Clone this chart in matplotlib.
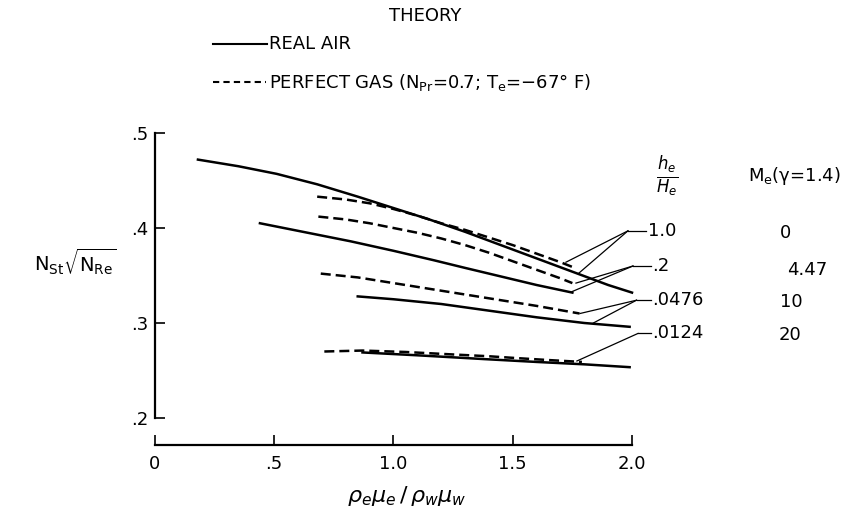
import matplotlib.pyplot as plt
from matplotlib.lines import Line2D

plt.rcParams['font.family'] = ['DejaVu Sans']
plt.rcParams['mathtext.fontset'] = 'dejavusans'

# x = rho_e mu_e / rho_w mu_w , y = N_St sqrt(N_Re)
real_10_x = [0.18, 0.35, 0.51, 0.68, 0.85, 1.0, 1.15, 1.3, 1.45, 1.6, 1.75, 1.9, 2.0]
real_10_y = [0.472, 0.465, 0.457, 0.446, 0.433, 0.421, 0.409, 0.396, 0.382, 0.368, 0.354, 0.340, 0.332]
perf_10_x = [0.68, 0.8, 0.9, 1.0, 1.1, 1.2, 1.3, 1.4, 1.5, 1.6, 1.7, 1.75]
perf_10_y = [0.433, 0.430, 0.426, 0.420, 0.413, 0.405, 0.398, 0.390, 0.382, 0.373, 0.364, 0.359]

real_02_x = [0.44, 0.6, 0.82, 1.0, 1.17, 1.3, 1.45, 1.6, 1.75]
real_02_y = [0.405, 0.397, 0.386, 0.376, 0.366, 0.358, 0.349, 0.340, 0.332]
perf_02_x = [0.685, 0.8, 0.9, 1.0, 1.1, 1.2, 1.3, 1.4, 1.5, 1.6, 1.7, 1.75]
perf_02_y = [0.412, 0.409, 0.405, 0.400, 0.395, 0.389, 0.382, 0.374, 0.365, 0.356, 0.347, 0.342]

real_0476_x = [0.85, 1.0, 1.2, 1.4, 1.6, 1.8, 1.99]
real_0476_y = [0.328, 0.325, 0.320, 0.313, 0.306, 0.300, 0.296]
perf_0476_x = [0.695, 0.85, 1.0, 1.15, 1.3, 1.45, 1.6, 1.78]
perf_0476_y = [0.352, 0.348, 0.342, 0.336, 0.330, 0.324, 0.318, 0.310]

real_0124_x = [0.87, 1.1, 1.38, 1.6, 1.8, 1.99]
real_0124_y = [0.269, 0.266, 0.262, 0.259, 0.2565, 0.2535]
perf_0124_x = [0.71, 0.87, 1.05, 1.24, 1.4, 1.52, 1.65, 1.79]
perf_0124_y = [0.270, 0.271, 0.2695, 0.267, 0.265, 0.263, 0.261, 0.259]

y_ticks = [0.2, 0.3, 0.4, 0.5]
y_labels = ['.2', '.3', '.4', '.5']
x_ticks = [0, 0.5, 1.0, 1.5, 2.0]
x_labels = ['0', '.5', '1.0', '1.5', '2.0']

ratio_labels = ['1.0', '.2', '.0476', '.0124']
mach_labels = ['0', '4.47', '10', '20']

W, H = 853, 516
fig = plt.figure(figsize=(W / 100, H / 100), dpi=100)
ax = fig.add_axes([155 / W, 1 - 418 / H, 477 / W, 285 / H])

lw = 1.8
dash = (0, (4, 2))
ax.plot(real_10_x, real_10_y, color='black', lw=lw, clip_on=False)
ax.plot(perf_10_x, perf_10_y, color='black', lw=lw, ls=dash, clip_on=False)
ax.plot(real_02_x, real_02_y, color='black', lw=lw, clip_on=False)
ax.plot(perf_02_x, perf_02_y, color='black', lw=lw, ls=dash, clip_on=False)
ax.plot(real_0476_x, real_0476_y, color='black', lw=lw, clip_on=False)
ax.plot(perf_0476_x, perf_0476_y, color='black', lw=lw, ls=dash, clip_on=False)
ax.plot(real_0124_x, real_0124_y, color='black', lw=lw, clip_on=False)
ax.plot(perf_0124_x, perf_0124_y, color='black', lw=lw, ls=dash, clip_on=False)

ax.set_xlim(0, 2.0)
ax.set_ylim(0.2, 0.5)
for s in ['top', 'right']:
    ax.spines[s].set_visible(False)
ax.spines['left'].set_linewidth(1.6)
ax.spines['bottom'].set_linewidth(1.6)
ax.spines['bottom'].set_position(('outward', 19.5))
ax.spines['bottom'].set_bounds(0, 2.0)
ax.set_xticks(x_ticks, x_labels)
ax.set_yticks(y_ticks, y_labels)
ax.tick_params(direction='in', length=7, width=1.2, labelsize=13)
ax.tick_params(axis='x', pad=7)
ax.tick_params(axis='y', pad=5)

# leader lines: label end -> curve ends
leaders = [
    ((1.983, 0.397), [(1.723, 0.364), (1.775, 0.352)], 2.06),
    ((2.004, 0.360), [(1.765, 0.342), (1.748, 0.333)], 2.08),
    ((2.019, 0.324), [(1.782, 0.310), (1.838, 0.300)], 2.08),
    ((2.025, 0.289), [(1.769, 0.260)], 2.08),
]
for (start, ends, lab_x), lab in zip(leaders, ratio_labels):
    for e in ends:
        ax.plot([e[0], start[0]], [e[1], start[1]], color='black', lw=0.9, clip_on=False)
    ax.plot([start[0], lab_x], [start[1], start[1]], color='black', lw=0.9, clip_on=False)
    ax.text(lab_x + 0.005, start[1], lab, fontsize=13, ha='left', va='center')

mach_pos = [(786, 233), (807, 270), (791, 302), (790, 335)]
for (px, py), lab in zip(mach_pos, mach_labels):
    fig.text(px / W, 1 - py / H, lab, fontsize=13, ha='center', va='center')

fig.text(667 / W, 1 - 177 / H, r'$\frac{h_e}{H_e}$', fontsize=17, ha='center', va='center')
fig.text(794 / W, 1 - 176 / H, r'$\mathregular{M_e(\gamma}$=1.4)', fontsize=13, ha='center', va='center')

fig.text(75 / W, 1 - 262 / H, r'$\mathregular{N_{St}\sqrt{N_{Re}}}$', fontsize=14, ha='center', va='center')
fig.text(407 / W, 1 - 496 / H, r'$\rho_e\mu_e\,/\,\rho_w\mu_w$', fontsize=16, ha='center', va='center')

# legend block
fig.text(425 / W, 1 - 16 / H, 'THEORY', fontsize=13, ha='center', va='center')
fig.add_artist(Line2D([213 / W, 267 / W], [1 - 44 / H] * 2, color='black', lw=1.5))
fig.text(269 / W, 1 - 44 / H, 'REAL AIR', fontsize=13, ha='left', va='center')
fig.add_artist(Line2D([213 / W, 266 / W], [1 - 82 / H] * 2, color='black', lw=1.5,
                      ls=(0, (3, 2))))
fig.text(269 / W, 1 - 82 / H,
         r'PERFECT GAS ($\mathregular{N_{Pr}}$=0.7; $\mathregular{T_e}$=−67° F)',
         fontsize=13, ha='left', va='center')

fig.savefig('out.png', dpi=100)
